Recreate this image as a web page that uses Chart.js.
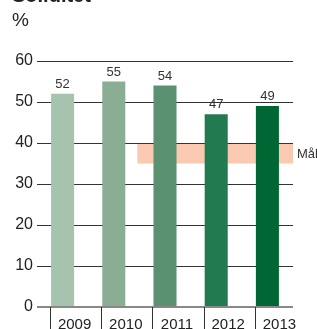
<!DOCTYPE html>
<html>
<head>
<meta charset="utf-8">
<script src="https://cdn.jsdelivr.net/npm/chart.js@4/dist/chart.umd.min.js"></script>
<style>
    html, body { margin: 0; padding: 0; background: #fff; overflow: hidden; }
    #wrap { position: relative; width: 317px; height: 329px; }
    #title { position: absolute; left: 12px; top: -15px; font: bold 20px "Liberation Sans", Arial, sans-serif; color: #222; line-height: 20px; }
    #unit { position: absolute; left: 12px; top: 10px; font: 19px "Liberation Sans", Arial, sans-serif; color: #222; line-height: 20px; }
</style>
</head>
<body>
<div id="wrap">
    <div id="title">Soliditet</div>
    <div id="unit">%</div>
    <canvas id="chart" width="317" height="329"></canvas>
</div>
<script>
const years = ["2009", "2010", "2011", "2012", "2013"];
const values = [52, 55, 54, 47, 49];
const barColors = ["#a6c3ad", "#8aae93", "#5a9170", "#227a50", "#006633"];
const yTicks = [0, 10, 20, 30, 40, 50, 60];
const targetRange = [35, 40];
const targetLabel = "Mål";

const FONT = "'Liberation Sans', Arial, sans-serif";

// band for the target, drawn behind the bars
const targetBand = {
    id: "targetBand",
    beforeDatasetsDraw(chart) {
        const { ctx, chartArea, scales } = chart;
        const x0 = scales.x.getPixelForValue(1.46);
        const yTop = scales.y.getPixelForValue(targetRange[1]);
        const yBot = scales.y.getPixelForValue(targetRange[0]);
        ctx.save();
        ctx.fillStyle = "#fbc9b2";
        ctx.fillRect(x0, yTop + 1, chartArea.right - x0, yBot - yTop - 1);
        ctx.fillStyle = "#333";
        ctx.font = "13px " + FONT;
        ctx.textBaseline = "middle";
        ctx.fillText(targetLabel, chartArea.right + 4, (yTop + yBot) / 2 + 1);
        ctx.restore();
    }
};

// value labels + separators under the x axis
const extras = {
    id: "extras",
    afterDatasetsDraw(chart) {
        const { ctx, scales } = chart;
        const meta = chart.getDatasetMeta(0);
        ctx.save();
        ctx.fillStyle = "#333";
        ctx.font = "13px " + FONT;
        ctx.textAlign = "center";
        ctx.textBaseline = "bottom";
        meta.data.forEach((bar, i) => {
            ctx.fillText(values[i], bar.x, bar.y - 3);
        });
        ctx.strokeStyle = "#333";
        ctx.lineWidth = 1;
        const base = scales.y.getPixelForValue(0);
        meta.data.forEach(bar => {
            const x = Math.round(bar.x - bar.width / 2) - 0.5;
            ctx.beginPath();
            ctx.moveTo(x, base);
            ctx.lineTo(x, chart.height);
            ctx.stroke();
        });
        ctx.restore();
    }
};

new Chart(document.getElementById("chart"), {
    type: "bar",
    data: {
        labels: years,
        datasets: [{
            data: values,
            backgroundColor: barColors,
            borderWidth: 0,
            barPercentage: 0.45,
            categoryPercentage: 1
        }]
    },
    options: {
        responsive: false,
        animation: false,
        layout: { padding: { top: 61, right: 24, bottom: 0, left: 0 } },
        plugins: { legend: { display: false }, tooltip: { enabled: false } },
        scales: {
            x: {
                grid: { display: false, drawTicks: false },
                border: { display: false },
                ticks: {
                    color: "#222",
                    font: { family: FONT, size: 15 },
                    padding: 9,
                    labelOffset: 12,
                    maxRotation: 0,
                    autoSkip: false
                },
                afterFit(scale) { scale.height = 22; }
            },
            y: {
                min: 0,
                max: 60,
                afterBuildTicks(scale) { scale.ticks = yTicks.map(v => ({ value: v })); },
                grid: {
                    drawTicks: false,
                    color: ctx => ctx.tick.value === 0 ? "#888" : "#333",
                    lineWidth: ctx => ctx.tick.value === 0 ? 2 : 1
                },
                border: { display: false },
                ticks: {
                    color: "#222",
                    font: { family: FONT, size: 16 },
                    padding: 4
                },
                afterFit(scale) { scale.width = 37; }
            }
        }
    },
    plugins: [targetBand, extras]
});
</script>
</body>
</html>
